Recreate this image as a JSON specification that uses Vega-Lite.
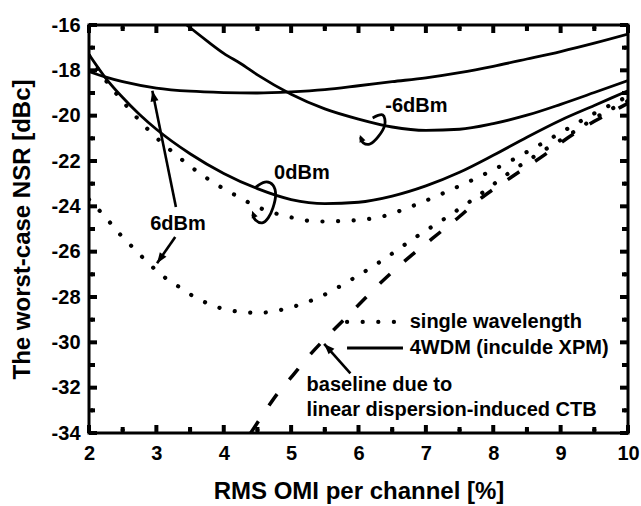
{
  "$schema": "https://vega.github.io/schema/vega-lite/v6.json",
  "width": 539,
  "height": 408,
  "autosize": {"type": "none"},
  "padding": {"left": 89, "top": 25, "right": 13, "bottom": 73},
  "background": "white",
  "config": {
    "font": "Liberation Sans",
    "view": {"stroke": "black", "strokeWidth": 3},
    "axis": {
      "domain": false,
      "grid": false,
      "ticks": false,
      "labelFont": "Liberation Sans",
      "labelFontWeight": "bold",
      "labelFontSize": 20,
      "labelColor": "black",
      "labelFlush": false,
      "labelOverlap": false,
      "titleFont": "Liberation Sans",
      "titleFontWeight": "bold",
      "titleFontSize": 24,
      "titleColor": "black"
    }
  },
  "datasets": {
    "curves": [
      {"series": "4WDM 6dBm", "x": 2.0, "y": -18.05},
      {"series": "4WDM 6dBm", "x": 2.25, "y": -18.3},
      {"series": "4WDM 6dBm", "x": 2.5, "y": -18.5},
      {"series": "4WDM 6dBm", "x": 3.0, "y": -18.78},
      {"series": "4WDM 6dBm", "x": 3.5, "y": -18.92},
      {"series": "4WDM 6dBm", "x": 4.0, "y": -18.98},
      {"series": "4WDM 6dBm", "x": 4.5, "y": -19.0},
      {"series": "4WDM 6dBm", "x": 5.0, "y": -18.95},
      {"series": "4WDM 6dBm", "x": 5.5, "y": -18.85},
      {"series": "4WDM 6dBm", "x": 6.0, "y": -18.68},
      {"series": "4WDM 6dBm", "x": 6.5, "y": -18.5},
      {"series": "4WDM 6dBm", "x": 7.0, "y": -18.33},
      {"series": "4WDM 6dBm", "x": 7.5, "y": -18.1},
      {"series": "4WDM 6dBm", "x": 8.0, "y": -17.82},
      {"series": "4WDM 6dBm", "x": 8.5, "y": -17.5},
      {"series": "4WDM 6dBm", "x": 9.0, "y": -17.17},
      {"series": "4WDM 6dBm", "x": 9.5, "y": -16.8},
      {"series": "4WDM 6dBm", "x": 10.0, "y": -16.4},

      {"series": "4WDM 0dBm", "x": 2.0, "y": -17.3},
      {"series": "4WDM 0dBm", "x": 2.25, "y": -18.35},
      {"series": "4WDM 0dBm", "x": 2.5, "y": -19.2},
      {"series": "4WDM 0dBm", "x": 2.75, "y": -19.95},
      {"series": "4WDM 0dBm", "x": 3.0, "y": -20.6},
      {"series": "4WDM 0dBm", "x": 3.5, "y": -21.68},
      {"series": "4WDM 0dBm", "x": 4.0, "y": -22.55},
      {"series": "4WDM 0dBm", "x": 4.5, "y": -23.22},
      {"series": "4WDM 0dBm", "x": 5.0, "y": -23.7},
      {"series": "4WDM 0dBm", "x": 5.5, "y": -23.88},
      {"series": "4WDM 0dBm", "x": 6.0, "y": -23.82},
      {"series": "4WDM 0dBm", "x": 6.5, "y": -23.55},
      {"series": "4WDM 0dBm", "x": 7.0, "y": -23.1},
      {"series": "4WDM 0dBm", "x": 7.5, "y": -22.5},
      {"series": "4WDM 0dBm", "x": 8.0, "y": -21.75},
      {"series": "4WDM 0dBm", "x": 8.5, "y": -20.95},
      {"series": "4WDM 0dBm", "x": 9.0, "y": -20.2},
      {"series": "4WDM 0dBm", "x": 9.5, "y": -19.55},
      {"series": "4WDM 0dBm", "x": 10.0, "y": -18.9},

      {"series": "4WDM -6dBm", "x": 3.45, "y": -16.0},
      {"series": "4WDM -6dBm", "x": 3.75, "y": -16.7},
      {"series": "4WDM -6dBm", "x": 4.0, "y": -17.25},
      {"series": "4WDM -6dBm", "x": 4.25, "y": -17.7},
      {"series": "4WDM -6dBm", "x": 4.5, "y": -18.2},
      {"series": "4WDM -6dBm", "x": 5.0, "y": -19.05},
      {"series": "4WDM -6dBm", "x": 5.5, "y": -19.7},
      {"series": "4WDM -6dBm", "x": 6.0, "y": -20.15},
      {"series": "4WDM -6dBm", "x": 6.5, "y": -20.5},
      {"series": "4WDM -6dBm", "x": 7.0, "y": -20.65},
      {"series": "4WDM -6dBm", "x": 7.5, "y": -20.6},
      {"series": "4WDM -6dBm", "x": 8.0, "y": -20.35},
      {"series": "4WDM -6dBm", "x": 8.5, "y": -19.98},
      {"series": "4WDM -6dBm", "x": 9.0, "y": -19.5},
      {"series": "4WDM -6dBm", "x": 9.5, "y": -18.98},
      {"series": "4WDM -6dBm", "x": 10.0, "y": -18.45},

      {"series": "single 0dBm", "x": 2.0, "y": -17.35},
      {"series": "single 0dBm", "x": 2.25, "y": -18.45},
      {"series": "single 0dBm", "x": 2.45, "y": -19.19},
      {"series": "single 0dBm", "x": 2.86, "y": -20.56},
      {"series": "single 0dBm", "x": 3.32, "y": -21.8},
      {"series": "single 0dBm", "x": 3.8, "y": -22.86},
      {"series": "single 0dBm", "x": 4.26, "y": -23.65},
      {"series": "single 0dBm", "x": 4.48, "y": -24.0},
      {"series": "single 0dBm", "x": 4.95, "y": -24.45},
      {"series": "single 0dBm", "x": 5.41, "y": -24.67},
      {"series": "single 0dBm", "x": 5.89, "y": -24.63},
      {"series": "single 0dBm", "x": 6.35, "y": -24.45},
      {"series": "single 0dBm", "x": 6.79, "y": -24.0},
      {"series": "single 0dBm", "x": 7.25, "y": -23.43},
      {"series": "single 0dBm", "x": 7.71, "y": -22.81},
      {"series": "single 0dBm", "x": 8.19, "y": -22.1},
      {"series": "single 0dBm", "x": 8.65, "y": -21.35},
      {"series": "single 0dBm", "x": 9.1, "y": -20.58},
      {"series": "single 0dBm", "x": 9.5, "y": -19.9},
      {"series": "single 0dBm", "x": 10.0, "y": -19.15},

      {"series": "single 6dBm", "x": 2.0, "y": -23.7},
      {"series": "single 6dBm", "x": 2.25, "y": -24.5},
      {"series": "single 6dBm", "x": 2.45, "y": -25.2},
      {"series": "single 6dBm", "x": 2.67, "y": -25.87},
      {"series": "single 6dBm", "x": 2.89, "y": -26.53},
      {"series": "single 6dBm", "x": 3.13, "y": -27.15},
      {"series": "single 6dBm", "x": 3.36, "y": -27.6},
      {"series": "single 6dBm", "x": 3.59, "y": -28.04},
      {"series": "single 6dBm", "x": 3.82, "y": -28.35},
      {"series": "single 6dBm", "x": 4.05, "y": -28.57},
      {"series": "single 6dBm", "x": 4.51, "y": -28.7},
      {"series": "single 6dBm", "x": 4.97, "y": -28.48},
      {"series": "single 6dBm", "x": 5.43, "y": -27.99},
      {"series": "single 6dBm", "x": 5.89, "y": -27.24},
      {"series": "single 6dBm", "x": 6.36, "y": -26.37},
      {"series": "single 6dBm", "x": 6.82, "y": -25.42},
      {"series": "single 6dBm", "x": 7.3, "y": -24.5},
      {"series": "single 6dBm", "x": 7.76, "y": -23.57},
      {"series": "single 6dBm", "x": 8.2, "y": -22.6},
      {"series": "single 6dBm", "x": 8.66, "y": -21.7},
      {"series": "single 6dBm", "x": 9.14, "y": -20.82},
      {"series": "single 6dBm", "x": 9.58, "y": -19.98},
      {"series": "single 6dBm", "x": 10.0, "y": -19.35},

      {"series": "baseline", "x": 4.4, "y": -34.0},
      {"series": "baseline", "x": 4.6, "y": -33.1},
      {"series": "baseline", "x": 4.8, "y": -32.25},
      {"series": "baseline", "x": 5.0, "y": -31.55},
      {"series": "baseline", "x": 5.25, "y": -30.65},
      {"series": "baseline", "x": 5.5, "y": -29.85},
      {"series": "baseline", "x": 5.75, "y": -29.1},
      {"series": "baseline", "x": 6.0, "y": -28.35},
      {"series": "baseline", "x": 6.25, "y": -27.6},
      {"series": "baseline", "x": 6.5, "y": -26.9},
      {"series": "baseline", "x": 6.75, "y": -26.25},
      {"series": "baseline", "x": 7.0, "y": -25.65},
      {"series": "baseline", "x": 7.25, "y": -25.05},
      {"series": "baseline", "x": 7.5, "y": -24.45},
      {"series": "baseline", "x": 7.75, "y": -23.8},
      {"series": "baseline", "x": 8.0, "y": -23.25},
      {"series": "baseline", "x": 8.25, "y": -22.75},
      {"series": "baseline", "x": 8.5, "y": -22.25},
      {"series": "baseline", "x": 8.75, "y": -21.75},
      {"series": "baseline", "x": 9.0, "y": -21.2},
      {"series": "baseline", "x": 9.25, "y": -20.7},
      {"series": "baseline", "x": 9.5, "y": -20.25},
      {"series": "baseline", "x": 9.75, "y": -19.85},
      {"series": "baseline", "x": 10.0, "y": -19.45}
    ],
    "legendLines": [
      {"item": "single wavelength", "x": 5.83, "y": -29.1},
      {"item": "single wavelength", "x": 6.58, "y": -29.1},
      {"item": "4WDM", "x": 5.83, "y": -30.25},
      {"item": "4WDM", "x": 6.66, "y": -30.25}
    ],
    "loops": [
      {"loop": "0dBm", "x": 4.46, "y": -23.19},
      {"loop": "0dBm", "x": 4.61, "y": -22.93},
      {"loop": "0dBm", "x": 4.73, "y": -23.06},
      {"loop": "0dBm", "x": 4.77, "y": -23.5},
      {"loop": "0dBm", "x": 4.73, "y": -24.07},
      {"loop": "0dBm", "x": 4.66, "y": -24.51},
      {"loop": "0dBm", "x": 4.57, "y": -24.73},
      {"loop": "0dBm", "x": 4.47, "y": -24.6},
      {"loop": "0dBm", "x": 4.43, "y": -24.35},
      {"loop": "-6dBm", "x": 6.21, "y": -20.1},
      {"loop": "-6dBm", "x": 6.36, "y": -19.97},
      {"loop": "-6dBm", "x": 6.39, "y": -20.41},
      {"loop": "-6dBm", "x": 6.29, "y": -20.94},
      {"loop": "-6dBm", "x": 6.17, "y": -21.25},
      {"loop": "-6dBm", "x": 6.07, "y": -21.2},
      {"loop": "-6dBm", "x": 6.03, "y": -20.95}
    ],
    "arrows": [
      {"arrow": "6dBm up", "x": 3.29, "y": -24.03, "x2": 2.94, "y2": -18.9},
      {"arrow": "6dBm down", "x": 3.28, "y": -25.35, "x2": 3.01, "y2": -26.51},
      {"arrow": "baseline", "x": 5.88, "y": -31.37, "x2": 5.49, "y2": -30.07}
    ],
    "heads": [
      {"head": "6dBm up", "x": 2.94, "y": -18.9},
      {"head": "6dBm down", "x": 3.01, "y": -26.51},
      {"head": "baseline", "x": 5.49, "y": -30.07},
      {"head": "loop 0dBm", "x": 4.42, "y": -24.2},
      {"head": "loop -6dBm", "x": 6.02, "y": -20.85}
    ],
    "labels": [
      {"text": "0dBm", "x": 5.16, "y": -22.53},
      {"text": "6dBm", "x": 3.32, "y": -24.78},
      {"text": "-6dBm", "x": 6.86, "y": -19.57}
    ],
    "notes": [
      {"text": "single wavelength", "x": 6.76, "y": -29.1},
      {"text": "4WDM (inculde XPM)", "x": 6.76, "y": -30.25},
      {"text": "baseline due to", "x": 5.23, "y": -31.88},
      {"text": "linear dispersion-induced CTB", "x": 5.23, "y": -32.98}
    ]
  },
  "resolve": {"axis": {"x": "independent", "y": "independent"}},
  "layer": [
    {
      "data": {"name": "curves"},
      "transform": [{"filter": "indexof(datum.series, '4WDM') === 0"}],
      "mark": {"type": "line", "color": "black", "strokeWidth": 2.8, "interpolate": "monotone", "clip": true},
      "encoding": {
        "x": {
          "field": "x", "type": "quantitative",
          "scale": {"domain": [2, 10], "nice": false, "zero": false},
          "axis": {
            "orient": "bottom",
            "values": [2, 3, 4, 5, 6, 7, 8, 9, 10],
            "labelExpr": "'' + datum.value",
            "labelPadding": 10,
            "title": "RMS OMI per channel [%]",
            "titlePadding": 16
          }
        },
        "y": {
          "field": "y", "type": "quantitative",
          "scale": {"domain": [-34, -16], "nice": false, "zero": false},
          "axis": {
            "orient": "left",
            "values": [-34, -32, -30, -28, -26, -24, -22, -20, -18, -16],
            "labelExpr": "'' + datum.value",
            "labelPadding": 9,
            "title": "The worst-case NSR [dBc]\u00a0\u00a0\u00a0\u00a0\u00a0",
            "titlePadding": 17
          }
        },
        "detail": {"field": "series"}
      }
    },
    {
      "data": {"name": "curves"},
      "transform": [{"filter": "indexof(datum.series, 'single') === 0"}],
      "mark": {"type": "line", "color": "black", "strokeWidth": 4.2, "strokeDash": [0.1, 15.5], "strokeCap": "round", "interpolate": "monotone", "clip": true},
      "encoding": {
        "x": {"field": "x", "type": "quantitative", "axis": null},
        "y": {"field": "y", "type": "quantitative", "axis": null},
        "detail": {"field": "series"}
      }
    },
    {
      "data": {"name": "curves"},
      "transform": [{"filter": "datum.series === 'baseline'"}],
      "mark": {"type": "line", "color": "black", "strokeWidth": 3.5, "strokeDash": [14, 19], "interpolate": "monotone", "clip": true},
      "encoding": {
        "x": {"field": "x", "type": "quantitative", "axis": null},
        "y": {"field": "y", "type": "quantitative", "axis": null}
      }
    },
    {
      "data": {"values": [
        {"x": 2, "y": -34}, {"x": 2.5, "y": -34}, {"x": 3, "y": -34}, {"x": 3.5, "y": -34}, {"x": 4, "y": -34}, {"x": 4.5, "y": -34},
        {"x": 5, "y": -34}, {"x": 5.5, "y": -34}, {"x": 6, "y": -34}, {"x": 6.5, "y": -34}, {"x": 7, "y": -34}, {"x": 7.5, "y": -34},
        {"x": 8, "y": -34}, {"x": 8.5, "y": -34}, {"x": 9, "y": -34}, {"x": 9.5, "y": -34}, {"x": 10, "y": -34}
      ]},
      "mark": {"type": "point", "shape": "square", "filled": true, "color": "black", "opacity": 1, "size": 16, "yOffset": -2},
      "encoding": {
        "x": {"field": "x", "type": "quantitative", "axis": null},
        "y": {"field": "y", "type": "quantitative", "axis": null}
      }
    },
    {
      "data": {"values": [
        {"x": 2, "y": -34}, {"x": 3, "y": -34}, {"x": 4, "y": -34}, {"x": 5, "y": -34}, {"x": 6, "y": -34},
        {"x": 7, "y": -34}, {"x": 8, "y": -34}, {"x": 9, "y": -34}, {"x": 10, "y": -34}
      ]},
      "mark": {"type": "point", "shape": "square", "filled": true, "color": "black", "opacity": 1, "size": 16, "yOffset": -6},
      "encoding": {
        "x": {"field": "x", "type": "quantitative", "axis": null},
        "y": {"field": "y", "type": "quantitative", "axis": null}
      }
    },
    {
      "data": {"values": [
        {"x": 2.5, "y": -34}, {"x": 3.5, "y": -34}, {"x": 4.5, "y": -34}, {"x": 5.5, "y": -34},
        {"x": 6.5, "y": -34}, {"x": 7.5, "y": -34}, {"x": 8.5, "y": -34}, {"x": 9.5, "y": -34}
      ]},
      "mark": {"type": "point", "shape": "square", "filled": true, "color": "black", "opacity": 1, "size": 16, "yOffset": -4},
      "encoding": {
        "x": {"field": "x", "type": "quantitative", "axis": null},
        "y": {"field": "y", "type": "quantitative", "axis": null}
      }
    },
    {
      "data": {"values": [
        {"x": 2, "y": -16}, {"x": 2.5, "y": -16}, {"x": 3, "y": -16}, {"x": 3.5, "y": -16}, {"x": 4, "y": -16}, {"x": 4.5, "y": -16},
        {"x": 5, "y": -16}, {"x": 5.5, "y": -16}, {"x": 6, "y": -16}, {"x": 6.5, "y": -16}, {"x": 7, "y": -16}, {"x": 7.5, "y": -16},
        {"x": 8, "y": -16}, {"x": 8.5, "y": -16}, {"x": 9, "y": -16}, {"x": 9.5, "y": -16}, {"x": 10, "y": -16}
      ]},
      "mark": {"type": "point", "shape": "square", "filled": true, "color": "black", "opacity": 1, "size": 16, "yOffset": 2},
      "encoding": {
        "x": {"field": "x", "type": "quantitative", "axis": null},
        "y": {"field": "y", "type": "quantitative", "axis": null}
      }
    },
    {
      "data": {"values": [
        {"x": 2, "y": -16}, {"x": 3, "y": -16}, {"x": 4, "y": -16}, {"x": 5, "y": -16}, {"x": 6, "y": -16},
        {"x": 7, "y": -16}, {"x": 8, "y": -16}, {"x": 9, "y": -16}, {"x": 10, "y": -16}
      ]},
      "mark": {"type": "point", "shape": "square", "filled": true, "color": "black", "opacity": 1, "size": 16, "yOffset": 6},
      "encoding": {
        "x": {"field": "x", "type": "quantitative", "axis": null},
        "y": {"field": "y", "type": "quantitative", "axis": null}
      }
    },
    {
      "data": {"values": [
        {"x": 2.5, "y": -16}, {"x": 3.5, "y": -16}, {"x": 4.5, "y": -16}, {"x": 5.5, "y": -16},
        {"x": 6.5, "y": -16}, {"x": 7.5, "y": -16}, {"x": 8.5, "y": -16}, {"x": 9.5, "y": -16}
      ]},
      "mark": {"type": "point", "shape": "square", "filled": true, "color": "black", "opacity": 1, "size": 16, "yOffset": 4},
      "encoding": {
        "x": {"field": "x", "type": "quantitative", "axis": null},
        "y": {"field": "y", "type": "quantitative", "axis": null}
      }
    },
    {
      "data": {"values": [
        {"x": 2, "y": -34}, {"x": 2, "y": -33}, {"x": 2, "y": -32}, {"x": 2, "y": -31}, {"x": 2, "y": -30}, {"x": 2, "y": -29},
        {"x": 2, "y": -28}, {"x": 2, "y": -27}, {"x": 2, "y": -26}, {"x": 2, "y": -25}, {"x": 2, "y": -24}, {"x": 2, "y": -23},
        {"x": 2, "y": -22}, {"x": 2, "y": -21}, {"x": 2, "y": -20}, {"x": 2, "y": -19}, {"x": 2, "y": -18}, {"x": 2, "y": -17}, {"x": 2, "y": -16}
      ]},
      "mark": {"type": "point", "shape": "square", "filled": true, "color": "black", "opacity": 1, "size": 16, "xOffset": 2},
      "encoding": {
        "x": {"field": "x", "type": "quantitative", "axis": null},
        "y": {"field": "y", "type": "quantitative", "axis": null}
      }
    },
    {
      "data": {"values": [
        {"x": 2, "y": -34}, {"x": 2, "y": -32}, {"x": 2, "y": -30}, {"x": 2, "y": -28}, {"x": 2, "y": -26},
        {"x": 2, "y": -24}, {"x": 2, "y": -22}, {"x": 2, "y": -20}, {"x": 2, "y": -18}, {"x": 2, "y": -16}
      ]},
      "mark": {"type": "point", "shape": "square", "filled": true, "color": "black", "opacity": 1, "size": 16, "xOffset": 6},
      "encoding": {
        "x": {"field": "x", "type": "quantitative", "axis": null},
        "y": {"field": "y", "type": "quantitative", "axis": null}
      }
    },
    {
      "data": {"values": [
        {"x": 2, "y": -33}, {"x": 2, "y": -31}, {"x": 2, "y": -29}, {"x": 2, "y": -27}, {"x": 2, "y": -25},
        {"x": 2, "y": -23}, {"x": 2, "y": -21}, {"x": 2, "y": -19}, {"x": 2, "y": -17}
      ]},
      "mark": {"type": "point", "shape": "square", "filled": true, "color": "black", "opacity": 1, "size": 16, "xOffset": 4},
      "encoding": {
        "x": {"field": "x", "type": "quantitative", "axis": null},
        "y": {"field": "y", "type": "quantitative", "axis": null}
      }
    },
    {
      "data": {"values": [
        {"x": 10, "y": -34}, {"x": 10, "y": -33}, {"x": 10, "y": -32}, {"x": 10, "y": -31}, {"x": 10, "y": -30}, {"x": 10, "y": -29},
        {"x": 10, "y": -28}, {"x": 10, "y": -27}, {"x": 10, "y": -26}, {"x": 10, "y": -25}, {"x": 10, "y": -24}, {"x": 10, "y": -23},
        {"x": 10, "y": -22}, {"x": 10, "y": -21}, {"x": 10, "y": -20}, {"x": 10, "y": -19}, {"x": 10, "y": -18}, {"x": 10, "y": -17}, {"x": 10, "y": -16}
      ]},
      "mark": {"type": "point", "shape": "square", "filled": true, "color": "black", "opacity": 1, "size": 16, "xOffset": -2},
      "encoding": {
        "x": {"field": "x", "type": "quantitative", "axis": null},
        "y": {"field": "y", "type": "quantitative", "axis": null}
      }
    },
    {
      "data": {"values": [
        {"x": 10, "y": -34}, {"x": 10, "y": -32}, {"x": 10, "y": -30}, {"x": 10, "y": -28}, {"x": 10, "y": -26},
        {"x": 10, "y": -24}, {"x": 10, "y": -22}, {"x": 10, "y": -20}, {"x": 10, "y": -18}, {"x": 10, "y": -16}
      ]},
      "mark": {"type": "point", "shape": "square", "filled": true, "color": "black", "opacity": 1, "size": 16, "xOffset": -6},
      "encoding": {
        "x": {"field": "x", "type": "quantitative", "axis": null},
        "y": {"field": "y", "type": "quantitative", "axis": null}
      }
    },
    {
      "data": {"values": [
        {"x": 10, "y": -33}, {"x": 10, "y": -31}, {"x": 10, "y": -29}, {"x": 10, "y": -27}, {"x": 10, "y": -25},
        {"x": 10, "y": -23}, {"x": 10, "y": -21}, {"x": 10, "y": -19}, {"x": 10, "y": -17}
      ]},
      "mark": {"type": "point", "shape": "square", "filled": true, "color": "black", "opacity": 1, "size": 16, "xOffset": -4},
      "encoding": {
        "x": {"field": "x", "type": "quantitative", "axis": null},
        "y": {"field": "y", "type": "quantitative", "axis": null}
      }
    },
    {
      "data": {"name": "legendLines"},
      "transform": [{"filter": "datum.item === 'single wavelength'"}],
      "mark": {"type": "line", "color": "black", "strokeWidth": 4.2, "strokeDash": [0.1, 15.5], "strokeCap": "round"},
      "encoding": {
        "x": {"field": "x", "type": "quantitative", "axis": null},
        "y": {"field": "y", "type": "quantitative", "axis": null}
      }
    },
    {
      "data": {"name": "legendLines"},
      "transform": [{"filter": "datum.item === '4WDM'"}],
      "mark": {"type": "line", "color": "black", "strokeWidth": 2.8},
      "encoding": {
        "x": {"field": "x", "type": "quantitative", "axis": null},
        "y": {"field": "y", "type": "quantitative", "axis": null}
      }
    },
    {
      "data": {"name": "loops"},
      "mark": {"type": "line", "color": "black", "strokeWidth": 2.8, "interpolate": "cardinal"},
      "encoding": {
        "x": {"field": "x", "type": "quantitative", "axis": null},
        "y": {"field": "y", "type": "quantitative", "axis": null},
        "detail": {"field": "loop"},
        "order": {"value": null}
      }
    },
    {
      "data": {"name": "arrows"},
      "mark": {"type": "rule", "color": "black", "strokeWidth": 2.6},
      "encoding": {
        "x": {"field": "x", "type": "quantitative", "axis": null},
        "y": {"field": "y", "type": "quantitative", "axis": null},
        "x2": {"field": "x2"},
        "y2": {"field": "y2"}
      }
    },
    {
      "data": {"name": "heads"},
      "transform": [{"filter": "datum.head === '6dBm up'"}],
      "mark": {"type": "point", "shape": "M0,0L-0.38,1L0.38,1Z", "filled": true, "color": "black", "opacity": 1, "size": 450, "angle": 348},
      "encoding": {
        "x": {"field": "x", "type": "quantitative", "axis": null},
        "y": {"field": "y", "type": "quantitative", "axis": null}
      }
    },
    {
      "data": {"name": "heads"},
      "transform": [{"filter": "datum.head === '6dBm down'"}],
      "mark": {"type": "point", "shape": "M0,0L-0.38,1L0.38,1Z", "filled": true, "color": "black", "opacity": 1, "size": 450, "angle": 215},
      "encoding": {
        "x": {"field": "x", "type": "quantitative", "axis": null},
        "y": {"field": "y", "type": "quantitative", "axis": null}
      }
    },
    {
      "data": {"name": "heads"},
      "transform": [{"filter": "datum.head === 'baseline'"}],
      "mark": {"type": "point", "shape": "M0,0L-0.38,1L0.38,1Z", "filled": true, "color": "black", "opacity": 1, "size": 450, "angle": 316},
      "encoding": {
        "x": {"field": "x", "type": "quantitative", "axis": null},
        "y": {"field": "y", "type": "quantitative", "axis": null}
      }
    },
    {
      "data": {"name": "heads"},
      "transform": [{"filter": "indexof(datum.head, 'loop') === 0"}],
      "mark": {"type": "point", "shape": "M0,0L-0.45,1L0.45,1Z", "filled": true, "color": "black", "opacity": 1, "size": 200, "angle": 338},
      "encoding": {
        "x": {"field": "x", "type": "quantitative", "axis": null},
        "y": {"field": "y", "type": "quantitative", "axis": null}
      }
    },
    {
      "data": {"name": "labels"},
      "mark": {"type": "text", "font": "Liberation Sans", "fontWeight": "bold", "fontSize": 20, "color": "black", "align": "center", "baseline": "middle"},
      "encoding": {
        "x": {"field": "x", "type": "quantitative", "axis": null},
        "y": {"field": "y", "type": "quantitative", "axis": null},
        "text": {"field": "text"}
      }
    },
    {
      "data": {"name": "notes"},
      "mark": {"type": "text", "font": "Liberation Sans", "fontWeight": "bold", "fontSize": 20, "color": "black", "align": "left", "baseline": "middle"},
      "encoding": {
        "x": {"field": "x", "type": "quantitative", "axis": null},
        "y": {"field": "y", "type": "quantitative", "axis": null},
        "text": {"field": "text"}
      }
    }
  ]
}
